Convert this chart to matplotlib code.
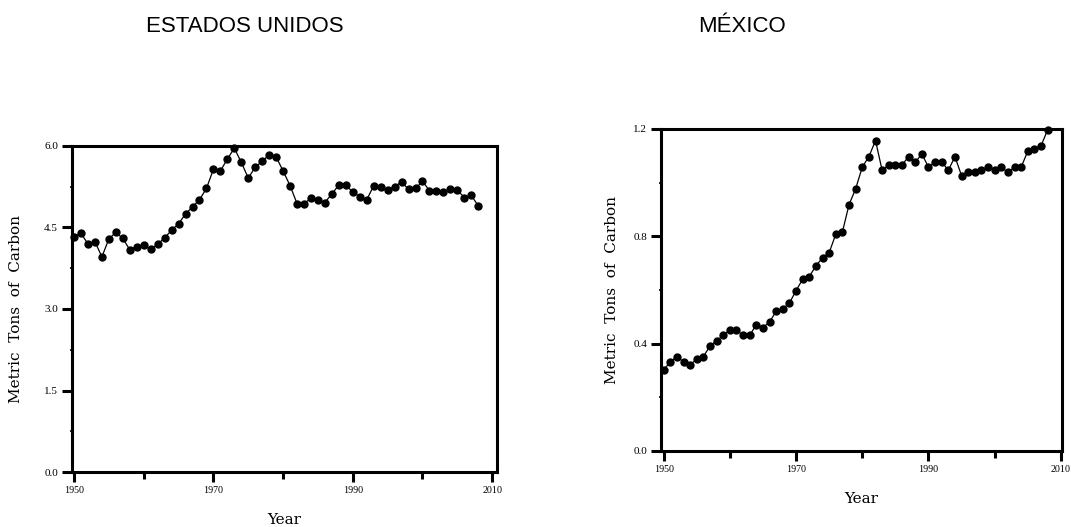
import numpy as np
import matplotlib
matplotlib.use("Agg")
from matplotlib.ticker import MultipleLocator, FixedLocator
import matplotlib.pyplot as plt

YEARS = list(range(1950, 2009))
US = [4.33, 4.39, 4.20, 4.24, 3.96, 4.29, 4.41, 4.30, 4.09, 4.15,
      4.18, 4.10, 4.19, 4.31, 4.45, 4.57, 4.75, 4.88, 5.01, 5.22,
      5.57, 5.54, 5.76, 5.96, 5.70, 5.41, 5.61, 5.72, 5.84, 5.80,
      5.54, 5.27, 4.94, 4.94, 5.04, 5.01, 4.96, 5.12, 5.28, 5.28,
      5.15, 5.07, 5.01, 5.27, 5.25, 5.19, 5.25, 5.34, 5.20, 5.22,
      5.35, 5.18, 5.17, 5.15, 5.20, 5.19, 5.05, 5.09, 4.90]
MX = [0.302, 0.332, 0.352, 0.332, 0.322, 0.342, 0.352, 0.391, 0.411, 0.431,
      0.451, 0.451, 0.431, 0.431, 0.471, 0.460, 0.481, 0.521, 0.530, 0.551,
      0.598, 0.640, 0.650, 0.690, 0.720, 0.739, 0.808, 0.816, 0.918, 0.977,
      1.058, 1.097, 1.157, 1.046, 1.066, 1.066, 1.066, 1.097, 1.076, 1.107,
      1.058, 1.077, 1.077, 1.046, 1.097, 1.026, 1.038, 1.038, 1.048, 1.058,
      1.048, 1.058, 1.038, 1.058, 1.058, 1.117, 1.127, 1.137, 1.197]
TITLES = ["ESTADOS UNIDOS", "MÉXICO"]
YTICKS = [[0.0, 1.5, 3.0, 4.5, 6.0], [0.0, 0.4, 0.8, 1.2]]
XTICKS = [1950, 1970, 1990, 2010]
XMINOR = [1960, 1980, 2000]

W, H = 1071, 527
matplotlib.rcParams["font.family"] = "serif"
matplotlib.rcParams["font.serif"] = ["DejaVu Serif"]

fig = plt.figure(figsize=(W / 100, H / 100), dpi=100)

# axes boxes in pixels: left, right, top, bottom
boxes = [(72, 497, 146, 472), (661, 1062, 129, 451)]
xlims = [(1949.71, 2010.69), (1949.6, 2010.17)]
ylims = [(0, 6.0), (0, 1.2)]
series = [US, MX]
title_x = [245, 742]
ypads = [15, 10]

for i in range(2):
    l, r, t, b = boxes[i]
    ax = fig.add_axes([l / W, 1 - b / H, (r - l) / W, (b - t) / H])
    ax.plot(YEARS, series[i], color="black", linewidth=0.9, marker="o",
            markersize=5, clip_on=False)
    ax.set_xlim(xlims[i])
    ax.set_ylim(ylims[i])
    ax.xaxis.set_major_locator(FixedLocator(XTICKS))
    ax.xaxis.set_minor_locator(FixedLocator(XMINOR))
    ax.yaxis.set_major_locator(FixedLocator(YTICKS[i]))
    ax.yaxis.set_minor_locator(MultipleLocator(YTICKS[i][1] / 2))
    ax.set_yticklabels(["{:.1f}".format(v) for v in YTICKS[i]],
                       family="Liberation Serif", fontsize=8)
    ax.set_xticklabels([str(v) for v in XTICKS],
                       family="Liberation Serif", fontsize=7.2)
    for s in ax.spines.values():
        s.set_linewidth(2.2)
    ax.tick_params(axis="both", which="major", direction="out",
                   length=7, width=2.2, pad=3)
    ax.tick_params(axis="x", which="minor", direction="out",
                   length=5, width=2.2)
    ax.tick_params(axis="y", which="minor", direction="out",
                   length=1.5, width=1.2)
    ax.set_xlabel("Year", fontsize=11, labelpad=13)
    ax.set_ylabel("Metric  Tons  of  Carbon", fontsize=11, labelpad=ypads[i])
    fig.text(title_x[i] / W, 1 - 32 / H, TITLES[i], family="Liberation Sans",
             fontsize=16, ha="center", va="baseline")

plt.savefig("out.png", dpi=100)
